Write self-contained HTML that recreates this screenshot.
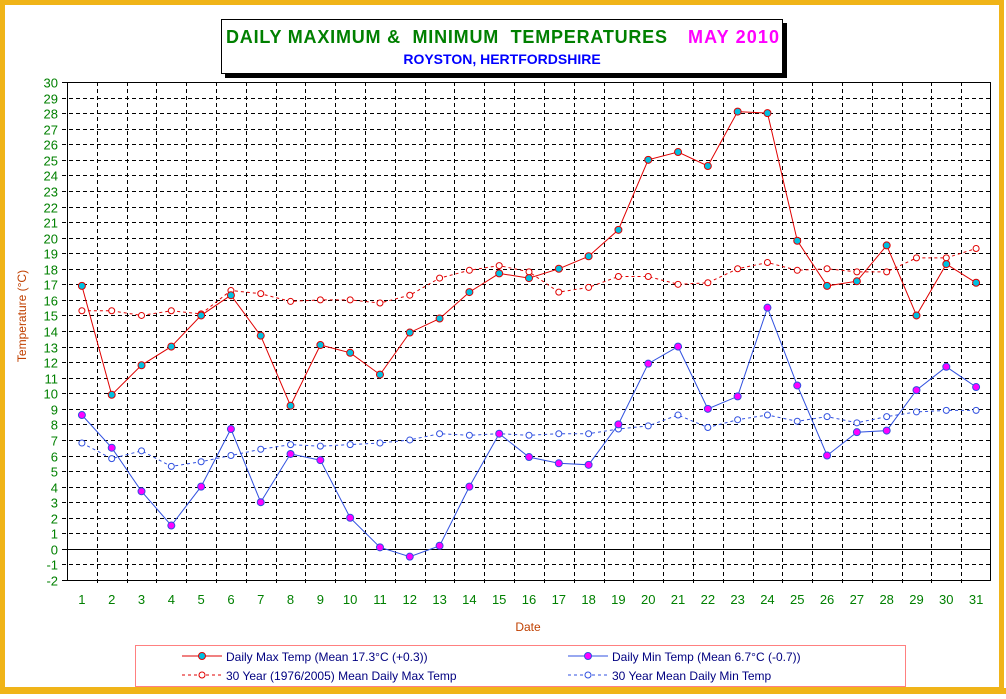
<!DOCTYPE html>
<html><head><meta charset="utf-8"><style>
html,body{margin:0;padding:0;background:#fff;}
body{width:1006px;height:694px;overflow:hidden;font-family:"Liberation Sans",Arial,sans-serif;}
</style></head><body>
<svg id="chart" width="1006" height="694" xmlns="http://www.w3.org/2000/svg" font-family="Liberation Sans, Arial, sans-serif">
<rect x="2.5" y="2.5" width="999" height="687" fill="#fff" stroke="#f0b418" stroke-width="5"/>
<rect x="0" y="688" width="1006" height="6" fill="#f0b418"/>
<rect x="225" y="23" width="562" height="55" fill="#000"/>
<rect x="221.5" y="19.5" width="561" height="54" fill="#fff" stroke="#000"/>
<text x="226" y="43" font-size="18" font-weight="bold" fill="#008000" xml:space="preserve" textLength="441" lengthAdjust="spacing">DAILY MAXIMUM &amp;  MINIMUM  TEMPERATURES</text>
<text x="688" y="43" font-size="18" font-weight="bold" fill="#ff00ff" textLength="91" lengthAdjust="spacing">MAY 2010</text>
<text x="502" y="64" font-size="14" font-weight="bold" fill="#0000ff" text-anchor="middle">ROYSTON, HERTFORDSHIRE</text>
<g id="grid"></g>
<g id="series"></g>
<text transform="translate(26,316) rotate(-90)" font-size="12" fill="#c04000" text-anchor="middle">Temperature (°C)</text>
<text x="528" y="631" font-size="12" fill="#c04000" text-anchor="middle">Date</text>
<rect x="135.5" y="645.5" width="770" height="41" fill="#fff" stroke="#ff8080"/>
<g>
<line x1="182" y1="656" x2="222" y2="656" stroke="#e00000"/><circle cx="202" cy="656" r="3.5" fill="#00c0e0" stroke="#e00000"/>
<text x="226" y="661" font-size="12" fill="#000080">Daily Max Temp (Mean 17.3°C (+0.3))</text></g>
<g>
<line x1="182" y1="675" x2="222" y2="675" stroke="#e00000" stroke-dasharray="3,3"/><circle cx="202" cy="675" r="3" fill="#fff" stroke="#e00000"/>
<text x="226" y="680" font-size="12" fill="#000080">30 Year (1976/2005) Mean Daily Max Temp</text></g>
<g>
<line x1="568" y1="656" x2="608" y2="656" stroke="#3050e0"/><circle cx="588" cy="656" r="3.5" fill="#ff00ff" stroke="#3050e0"/>
<text x="612" y="661" font-size="12" fill="#000080">Daily Min Temp (Mean 6.7°C (-0.7))</text></g>
<g>
<line x1="568" y1="675" x2="608" y2="675" stroke="#3050e0" stroke-dasharray="3,3"/><circle cx="588" cy="675" r="3" fill="#fff" stroke="#3050e0"/>
<text x="612" y="680" font-size="12" fill="#000080">30 Year Mean Daily Min Temp</text></g>
</svg>
<script>
const days=[1,2,3,4,5,6,7,8,9,10,11,12,13,14,15,16,17,18,19,20,21,22,23,24,25,26,27,28,29,30,31];
const maxTemp=[16.9,9.9,11.8,13.0,15.0,16.3,13.7,9.2,13.1,12.6,11.2,13.9,14.8,16.5,17.7,17.4,18.0,18.8,20.5,25.0,25.5,24.6,28.1,28.0,19.8,16.9,17.2,19.5,15.0,18.3,17.1];
const minTemp=[8.6,6.5,3.7,1.5,4.0,7.7,3.0,6.1,5.7,2.0,0.1,-0.5,0.2,4.0,7.4,5.9,5.5,5.4,8.0,11.9,13.0,9.0,9.8,15.5,10.5,6.0,7.5,7.6,10.2,11.7,10.4];
const meanMax=[15.3,15.3,15.0,15.3,15.1,16.6,16.4,15.9,16.0,16.0,15.8,16.3,17.4,17.9,18.2,17.8,16.5,16.8,17.5,17.5,17.0,17.1,18.0,18.4,17.9,18.0,17.8,17.8,18.7,18.7,19.3];
const meanMin=[6.8,5.8,6.3,5.3,5.6,6.0,6.4,6.7,6.6,6.7,6.8,7.0,7.4,7.3,7.4,7.3,7.4,7.4,7.7,7.9,8.6,7.8,8.3,8.6,8.2,8.5,8.1,8.5,8.8,8.9,8.9];
const yTicks=[-2,-1,0,1,2,3,4,5,6,7,8,9,10,11,12,13,14,15,16,17,18,19,20,21,22,23,24,25,26,27,28,29,30];

const L=67,R=991,T=82,B=580,yMin=-2,yMax=30;
const cw=(R-L)/days.length;
function xs(i){return L+(i+0.5)*cw;}
function ys(v){return B-(v-yMin)/(yMax-yMin)*(B-T);}
const NS="http://www.w3.org/2000/svg";
function mk(tag,attrs,parent){const e=document.createElementNS(NS,tag);for(const k in attrs)e.setAttribute(k,attrs[k]);parent.appendChild(e);return e;}
const g=document.getElementById('grid');
yTicks.forEach(v=>{
  const y=Math.round(ys(v))+0.5;
  const ln=mk('line',{x1:L-5,x2:R,y1:y,y2:y,stroke:'#000','stroke-dasharray':(v===0||v===yMin||v===yMax)?'none':'4,3'},g);
  
  
  const t=mk('text',{x:L-9,y:y+5,'font-size':13,fill:'#008000','text-anchor':'end'},g);
  t.textContent=v;
  
  
});
for(let i=1;i<days.length;i++){
  const x=Math.round(L+i*cw)+0.5;
  const ln=mk('line',{x1:x,x2:x,y1:T,y2:B+5,stroke:'#000','stroke-dasharray':'4,3'},g);
  
  
}
days.forEach((d,i)=>{
  const t=mk('text',{x:xs(i),y:604,'font-size':13,fill:'#008000','text-anchor':'middle'},g);
  t.textContent=d;
  
  
});
const fr=mk('rect',{x:L+0.5,y:T+0.5,width:R-L-1,height:B-T,fill:'none',stroke:'#000'},g);


const s=document.getElementById('series');
function series(arr,name,color,dash,fill,r){
  const pts=arr.map((v,i)=>xs(i).toFixed(1)+','+ys(v).toFixed(1)).join(' ');
  const pl=mk('polyline',{points:pts,fill:'none',stroke:color,'stroke-dasharray':dash},s);
  
  
  arr.forEach((v,i)=>{
    const c=mk('circle',{cx:xs(i),cy:ys(v),r:r,fill:fill,stroke:color},s);
    
    
  });
}
series(meanMax,'mean-max-temp','#e00000','3,3','#fff',3);
series(meanMin,'mean-min-temp','#3050e0','3,3','#fff',3);
series(maxTemp,'daily-max-temp','#e00000','none','#00c0e0',3.5);
series(minTemp,'daily-min-temp','#3050e0','none','#ff00ff',3.5);
</script>
</body></html>
